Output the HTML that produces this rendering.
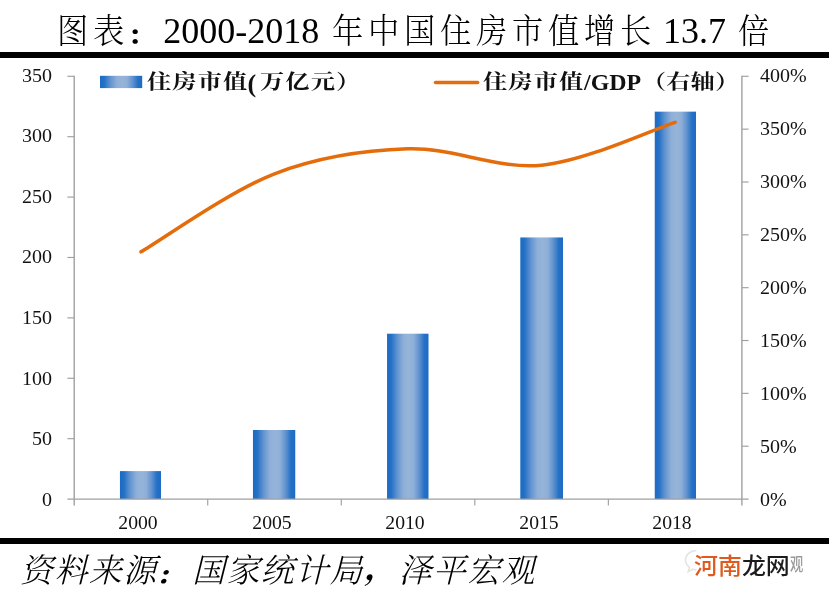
<!DOCTYPE html>
<html lang="zh-CN">
<head>
<meta charset="utf-8">
<title>图表：2000-2018 年中国住房市值增长 13.7 倍</title>
<style>
html,body{margin:0;padding:0;background:#fff;}
body{width:830px;height:600px;position:relative;overflow:hidden;font-family:"Liberation Serif","Noto Serif CJK SC",serif;color:#000;}
.abs{position:absolute;white-space:nowrap;line-height:1;}
.chart{position:absolute;left:0;top:0;}
.rule{position:absolute;left:0;width:829px;background:#000;}
.title{font-size:36px;font-weight:300;}
.title .cjk{display:inline-block;font-size:34px;letter-spacing:5.13px;transform:scaleX(0.92);transform-origin:0 50%;vertical-align:baseline;}
.colon{display:inline-block;font-weight:900;line-height:1;vertical-align:baseline;}
.tick{font-size:18.2px;color:#111;transform:scaleX(1.1);}
.yl{text-align:right;width:40px;transform-origin:100% 50%;}
.yr{transform-origin:0 50%;}
.xl{text-align:center;width:60px;transform-origin:50% 50%;transform:scaleX(1.08);}
.leg{font-weight:700;color:#111;}
.leg .k{transform-origin:0 50%;font-weight:700;}
.src{font-size:33px;letter-spacing:1.4px;font-style:italic;font-weight:300;}
.wm{font-family:"Liberation Sans","Noto Sans CJK SC",sans-serif;font-size:22.6px;font-weight:500;transform:scaleX(1.06);transform-origin:0 50%;text-shadow:0 0 1.5px #fff,0 0 1.5px #fff;}
</style>
</head>
<body>

<svg class="chart" width="830" height="600" viewBox="0 0 830 600">
<defs>
<linearGradient id="bg" x1="0" y1="0" x2="1" y2="0">
<stop offset="0" stop-color="#1c6bc4"/>
<stop offset="0.1" stop-color="#2471c6"/>
<stop offset="0.25" stop-color="#6394d0"/>
<stop offset="0.4" stop-color="#8eafd8"/>
<stop offset="0.52" stop-color="#96b4d8"/>
<stop offset="0.64" stop-color="#8eafd8"/>
<stop offset="0.78" stop-color="#5e90ce"/>
<stop offset="0.9" stop-color="#2471c6"/>
<stop offset="1" stop-color="#1c6bc4"/>
</linearGradient>
</defs>
<rect x="119.95" y="471.10" width="41.05" height="27.95" fill="url(#bg)"/>
<rect x="252.95" y="430.00" width="42.30" height="69.05" fill="url(#bg)"/>
<rect x="387.05" y="333.70" width="41.45" height="165.35" fill="url(#bg)"/>
<rect x="520.30" y="237.45" width="42.70" height="261.60" fill="url(#bg)"/>
<rect x="654.75" y="111.65" width="41.25" height="387.40" fill="url(#bg)"/>
<rect x="100" y="75.8" width="42.2" height="12.3" fill="url(#bg)"/>
<g stroke="#a0a0a0" stroke-width="1.4" fill="none">
<path d="M74.20,75.80 V505.6"/>
<path d="M741.90,75.80 V505.6"/>
<path d="M67.4,499.05 H748.6" stroke-width="1.15"/>
<path d="M67.4,438.66 H74.20" stroke-width="1.15"/>
<path d="M67.4,378.26 H74.20" stroke-width="1.15"/>
<path d="M67.4,317.87 H74.20" stroke-width="1.15"/>
<path d="M67.4,257.48 H74.20" stroke-width="1.15"/>
<path d="M67.4,197.09 H74.20" stroke-width="1.15"/>
<path d="M67.4,136.69 H74.20" stroke-width="1.15"/>
<path d="M67.4,76.30 H74.20" stroke-width="1.15"/>
<path d="M741.90,446.21 H748.6" stroke-width="1.15"/>
<path d="M741.90,393.36 H748.6" stroke-width="1.15"/>
<path d="M741.90,340.52 H748.6" stroke-width="1.15"/>
<path d="M741.90,287.68 H748.6" stroke-width="1.15"/>
<path d="M741.90,234.83 H748.6" stroke-width="1.15"/>
<path d="M741.90,181.99 H748.6" stroke-width="1.15"/>
<path d="M741.90,129.14 H748.6" stroke-width="1.15"/>
<path d="M741.90,76.30 H748.6" stroke-width="1.15"/>
<path d="M207.74,499.05 V505.6" stroke-width="1.15"/>
<path d="M341.28,499.05 V505.6" stroke-width="1.15"/>
<path d="M474.82,499.05 V505.6" stroke-width="1.15"/>
<path d="M608.36,499.05 V505.6" stroke-width="1.15"/>
</g>
<path d="M140.97,251.80 C163.23,238.80 230.00,190.97 274.51,173.80 C319.02,156.63 363.54,150.23 408.05,148.80 C452.56,147.37 497.08,169.62 541.59,165.20 C586.10,160.78 652.87,129.45 675.13,122.30" fill="none" stroke="#e46c0a" stroke-width="3.5" stroke-linecap="round" stroke-linejoin="round"/>
<path d="M435.5,82.5 H477.7" fill="none" stroke="#e46c0a" stroke-width="3.5" stroke-linecap="round"/>
</svg>
<div class="rule" style="top:52px;height:6px"></div>
<div class="rule" style="top:538px;height:6px"></div>
<div class="abs title" id="title" style="left:56px;top:13px"><span class="cjk" style="margin-left:1.4px;margin-right:-7.66px">图表</span><span class="colon" style="width:36px;font-size:26px;transform:translate(-0.2px,1.6px) scaleY(0.9)">：</span><span style="margin-left:-0.7px">2000-2018</span> <span style="margin-left:2.4px"></span><span class="cjk" style="margin-left:1.4px;margin-right:-29.57px">年中国住房市值增长</span> <span style="margin-left:-0.7px;margin-right:1.7px">13.7</span> <span class="cjk" style="margin-left:1.4px;margin-right:-4.53px">倍</span></div>
<div class="abs tick yl" style="left:12px;top:490.76px">0</div>
<div class="abs tick yl" style="left:12px;top:430.19px">50</div>
<div class="abs tick yl" style="left:12px;top:369.62px">100</div>
<div class="abs tick yl" style="left:12px;top:309.05px">150</div>
<div class="abs tick yl" style="left:12px;top:248.47px">200</div>
<div class="abs tick yl" style="left:12px;top:187.90px">250</div>
<div class="abs tick yl" style="left:12px;top:127.33px">300</div>
<div class="abs tick yl" style="left:12px;top:66.76px">350</div>
<div class="abs tick yr" style="left:759.6px;top:490.76px">0%</div>
<div class="abs tick yr" style="left:759.6px;top:437.76px">50%</div>
<div class="abs tick yr" style="left:759.6px;top:384.76px">100%</div>
<div class="abs tick yr" style="left:759.6px;top:331.76px">150%</div>
<div class="abs tick yr" style="left:759.6px;top:278.76px">200%</div>
<div class="abs tick yr" style="left:759.6px;top:225.76px">250%</div>
<div class="abs tick yr" style="left:759.6px;top:172.76px">300%</div>
<div class="abs tick yr" style="left:759.6px;top:119.76px">350%</div>
<div class="abs tick yr" style="left:759.6px;top:66.76px">400%</div>
<div class="abs tick xl" style="left:107.97px;top:513.9px">2000</div>
<div class="abs tick xl" style="left:241.51px;top:513.9px">2005</div>
<div class="abs tick xl" style="left:375.05px;top:513.9px">2010</div>
<div class="abs tick xl" style="left:508.59px;top:513.9px">2015</div>
<div class="abs tick xl" style="left:642.13px;top:513.9px">2018</div>
<div class="leg" id="leg1"><span class="abs k" style="left:147.3px;top:72.0px;font-size:20.5px;letter-spacing:1.0px;transform:scaleX(1.18)">住房市值</span><span class="abs" style="left:247.5px;top:71px;font-size:26px;transform:scaleX(1.0);transform-origin:0 50%">(</span><span class="abs k" style="left:259.8px;top:72.0px;font-size:20.5px;letter-spacing:1.0px;transform:scaleX(1.18)">万亿元）</span></div>
<div class="leg" id="leg2"><span class="abs k" style="left:483.0px;top:72.0px;font-size:20.5px;letter-spacing:1.0px;transform:scaleX(1.18)">住房市值</span><span class="abs" style="left:583.6px;top:70.6px;font-size:23px;transform:scaleX(1.04);transform-origin:0 50%">/GDP</span><span class="abs k" style="left:641.5px;top:72.0px;font-size:20.5px;letter-spacing:0.1px;transform:scaleX(1.18)">（右轴）</span></div>
<div class="abs src" id="src" style="left:20px;top:554.8px">资料来源<span class="colon" style="width:34.4px;letter-spacing:0;font-size:26px;transform:translate(-2px,2.6px) scaleY(0.9)">：</span>国家统计局<span class="colon" style="width:34.4px;letter-spacing:0;font-size:30px;transform:translate(1px,-2.6px)">，</span>泽平宏观</div>
<svg class="abs" style="left:682px;top:546px" width="40" height="34" viewBox="0 0 40 34"><path d="M14.5,4.5 C8,4.5 3.5,8.8 3.5,14 C3.5,17 5,19.6 7.4,21.4 L6.2,25.6 L10.8,23.2 C12,23.6 13.2,23.8 14.5,23.8" fill="none" stroke="#e4e4e4" stroke-width="1.6"/></svg>
<div class="abs wm" id="wm2" style="left:789.5px;top:556.2px;font-size:18px;color:#9a9a9a;transform:scaleX(0.74);transform-origin:0 50%;text-shadow:0 0 2px #fff">观</div>
<div class="abs wm" id="wm" style="left:693.6px;top:556.2px"><span style="color:#de5a1e">河南</span><span style="color:#1c1c1c">龙网</span></div>
</body>
</html>
